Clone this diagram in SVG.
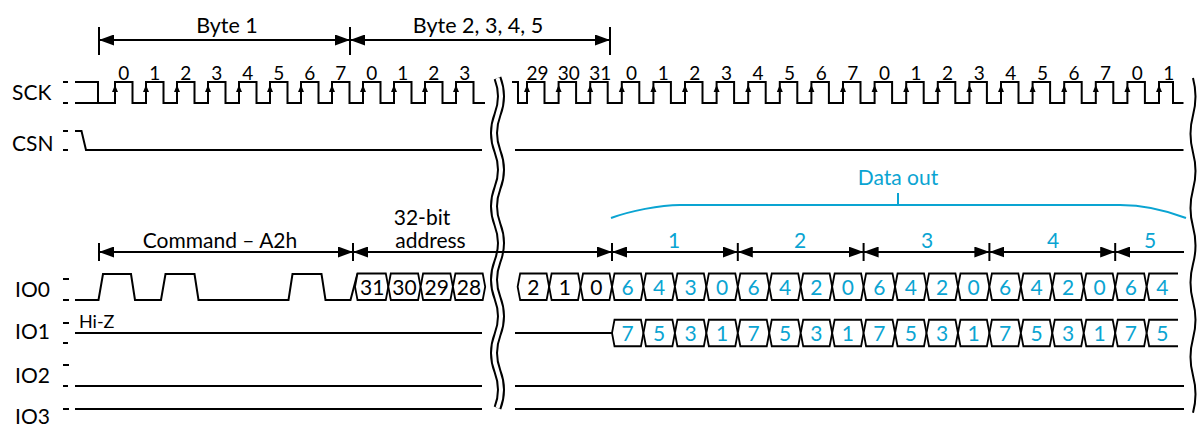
<svg xmlns="http://www.w3.org/2000/svg" xmlns:xlink="http://www.w3.org/1999/xlink" width="1198" height="426" viewBox="0 0 1198 426">
<style>
.t{font-family:Lato,"Liberation Sans",sans-serif;fill:#000}
.lbl{font-size:21px}
.num{font-size:19px;text-anchor:middle}
.dig{font-size:21px;text-anchor:middle}
.mid{text-anchor:middle}
.c{fill:#0AA4D2}
.w{fill:none;stroke:#000;stroke-width:2;stroke-linejoin:miter}
.bus{fill:#fff;stroke:#000;stroke-width:1.8}
.arr{fill:none;stroke:#000;stroke-width:2;marker-start:url(#ah);marker-end:url(#ah)}
.arr1{fill:none;stroke:#000;stroke-width:2;marker-start:url(#ah)}
.tick{fill:none;stroke:#000;stroke-width:2}
</style>
<defs>
<marker id="ah" viewBox="0 0 15 11" refX="15" refY="5.5" markerWidth="15" markerHeight="11" markerUnits="userSpaceOnUse" orient="auto-start-reverse"><path d="M0,0 L15,5.5 L0,11 z" fill="#000"/></marker>
<path id="ca" d="M0,85 L-3,92 L3,92 z" fill="#000"/>
<path id="hx" d="M0,0 L2.5,-13.25 H28.95 L31.45,0 L28.95,13.25 H2.5 Z"/>
</defs>

<g id="labels">
<text class="t lbl" x="12" y="100">SCK</text>
<text class="t lbl" x="12" y="151">CSN</text>
<text class="t lbl" x="15" y="297">IO0</text>
<text class="t lbl" x="15" y="339">IO1</text>
<text class="t lbl" x="15" y="383">IO2</text>
<text class="t lbl" x="15" y="424">IO3</text>
<path class="tick" d="M63,82 H68 M63,103 H68 M63,131 H68 M63,150 H68 M63,279 H69 M63,300 H69 M63,323 H69 M63,343 H68 M63,365 H69 M63,386 H68 M63,409 H69"/>
</g>

<g id="sck">
<path class="w" d="M75,82 H98 V103 M75,103 H115 V82 H132.5 V103 H146 V82 H163.5 V103 H177 V82 H194.5 V103 H208 V82 H225.5 V103 H239 V82 H256.5 V103 H270 V82 H287.5 V103 H301 V82 H318.5 V103 H332 V82 H349.5 V103 H363 V82 H380.5 V103 H394 V82 H411.5 V103 H425 V82 H442.5 V103 H456 V82 H473.5 V103 H485"/>
<path class="w" d="M512,82 H518 V103 H527 V82 H544.5 V103 H558.6 V82 H576.1 V103 H590.2 V82 H607.7 V103 H621.8 V82 H639.3 V103 H653.4 V82 H670.9 V103 H685 V82 H702.5 V103 H716.6 V82 H734.1 V103 H748.2 V82 H765.7 V103 H779.8 V82 H797.3 V103 H811.4 V82 H828.9 V103 H843 V82 H860.5 V103 H874.6 V82 H892.1 V103 H906.2 V82 H923.7 V103 H937.8 V82 H955.3 V103 H969.4 V82 H986.9 V103 H1001 V82 H1018.5 V103 H1032.6 V82 H1050.1 V103 H1064.2 V82 H1081.7 V103 H1095.8 V82 H1113.3 V103 H1127.4 V82 H1144.9 V103 H1159 V82 H1173 V103 H1183.5"/>
<use href="#ca" x="115"/><use href="#ca" x="146"/><use href="#ca" x="177"/><use href="#ca" x="208"/><use href="#ca" x="239"/><use href="#ca" x="270"/><use href="#ca" x="301"/><use href="#ca" x="332"/><use href="#ca" x="363"/><use href="#ca" x="394"/><use href="#ca" x="425"/><use href="#ca" x="456"/>
<use href="#ca" x="527"/><use href="#ca" x="558.6"/><use href="#ca" x="590.2"/><use href="#ca" x="621.8"/><use href="#ca" x="653.4"/><use href="#ca" x="685"/><use href="#ca" x="716.6"/><use href="#ca" x="748.2"/><use href="#ca" x="779.8"/><use href="#ca" x="811.4"/><use href="#ca" x="843"/><use href="#ca" x="874.6"/><use href="#ca" x="906.2"/><use href="#ca" x="937.8"/><use href="#ca" x="969.4"/><use href="#ca" x="1001"/><use href="#ca" x="1032.6"/><use href="#ca" x="1064.2"/><use href="#ca" x="1095.8"/><use href="#ca" x="1127.4"/><use href="#ca" x="1159"/>
<g class="t num">
<text x="123.8" y="80">0</text><text x="154.8" y="80">1</text><text x="185.8" y="80">2</text><text x="216.8" y="80">3</text><text x="247.8" y="80">4</text><text x="278.8" y="80">5</text><text x="309.8" y="80">6</text><text x="340.8" y="80">7</text><text x="371.8" y="80">0</text><text x="402.8" y="80">1</text><text x="433.8" y="80">2</text><text x="464.8" y="80">3</text>
<text x="537.5" y="80">29</text><text x="568.8" y="80">30</text><text x="600.2" y="80">31</text><text x="631.6" y="80">0</text><text x="663.2" y="80">1</text><text x="694.8" y="80">2</text><text x="726.4" y="80">3</text><text x="758" y="80">4</text><text x="789.6" y="80">5</text><text x="821.2" y="80">6</text><text x="852.8" y="80">7</text><text x="884.4" y="80">0</text><text x="916" y="80">1</text><text x="947.6" y="80">2</text><text x="979.2" y="80">3</text><text x="1010.8" y="80">4</text><text x="1042.4" y="80">5</text><text x="1074" y="80">6</text><text x="1105.6" y="80">7</text><text x="1137.2" y="80">0</text><text x="1168.8" y="80">1</text>
</g>
</g>

<g id="csn">
<path class="w" d="M75,131 H81.5 L86,150 H482 M515,150 H1183.5"/>
</g>

<g id="io0">
<path class="w" d="M75,300 H98.5 L103,274 H131 L135,300 H161 L165.5,274 H194.5 L198.5,300 H288.5 L292.5,274 H321.5 L325.5,300 H350.5 L357.5,273.5"/>
<path class="bus" d="M355,286.75 L357.5,273.5 H385.8 L388.3,286.75 L385.8,300 H357.5 Z"/>
<path class="bus" d="M388.3,286.75 L390.8,273.5 H418.1 L420.6,286.75 L418.1,300 H390.8 Z"/>
<path class="bus" d="M420.6,286.75 L423.1,273.5 H450.4 L452.9,286.75 L450.4,300 H423.1 Z"/>
<path class="bus" d="M452.9,286.75 L455.4,273.5 H482.7 L485.2,286.75 L482.7,300 H455.4 Z"/>
<g class="bus">
<use href="#hx" x="517.65" y="286.75"/><use href="#hx" x="549.1" y="286.75"/><use href="#hx" x="580.55" y="286.75"/>
<use href="#hx" x="612" y="286.75"/><use href="#hx" x="643.45" y="286.75"/><use href="#hx" x="674.9" y="286.75"/><use href="#hx" x="706.35" y="286.75"/><use href="#hx" x="737.8" y="286.75"/><use href="#hx" x="769.25" y="286.75"/><use href="#hx" x="800.7" y="286.75"/><use href="#hx" x="832.15" y="286.75"/><use href="#hx" x="863.6" y="286.75"/><use href="#hx" x="895.05" y="286.75"/><use href="#hx" x="926.5" y="286.75"/><use href="#hx" x="957.95" y="286.75"/><use href="#hx" x="989.4" y="286.75"/><use href="#hx" x="1020.85" y="286.75"/><use href="#hx" x="1052.3" y="286.75"/><use href="#hx" x="1083.75" y="286.75"/><use href="#hx" x="1115.2" y="286.75"/>
</g>
<path class="bus" fill="none" d="M1146.65,286.75 L1149.15,273.5 H1178 M1146.65,286.75 L1149.15,300 H1178"/>
<g class="t dig">
<text x="372.15" y="294.5">31</text><text x="404.45" y="294.5">30</text><text x="436.75" y="294.5">29</text><text x="469.05" y="294.5">28</text>
<text x="533.4" y="294.5">2</text><text x="564.8" y="294.5">1</text><text x="596.3" y="294.5">0</text>
</g>
<g class="t dig c">
<text x="627.7" y="294.5">6</text><text x="659.2" y="294.5">4</text><text x="690.6" y="294.5">3</text><text x="722.1" y="294.5">0</text><text x="753.5" y="294.5">6</text><text x="785" y="294.5">4</text><text x="816.4" y="294.5">2</text><text x="847.9" y="294.5">0</text><text x="879.3" y="294.5">6</text><text x="910.8" y="294.5">4</text><text x="942.2" y="294.5">2</text><text x="973.7" y="294.5">0</text><text x="1005.1" y="294.5">6</text><text x="1036.6" y="294.5">4</text><text x="1068" y="294.5">2</text><text x="1099.5" y="294.5">0</text><text x="1130.9" y="294.5">6</text><text x="1162.4" y="294.5">4</text>
</g>
</g>

<g id="io1">
<path class="w" d="M75,333 H482 M515,333 H612"/>
<text class="t" x="79" y="328" font-size="18">Hi-Z</text>
<g class="bus">
<use href="#hx" x="612" y="333"/><use href="#hx" x="643.45" y="333"/><use href="#hx" x="674.9" y="333"/><use href="#hx" x="706.35" y="333"/><use href="#hx" x="737.8" y="333"/><use href="#hx" x="769.25" y="333"/><use href="#hx" x="800.7" y="333"/><use href="#hx" x="832.15" y="333"/><use href="#hx" x="863.6" y="333"/><use href="#hx" x="895.05" y="333"/><use href="#hx" x="926.5" y="333"/><use href="#hx" x="957.95" y="333"/><use href="#hx" x="989.4" y="333"/><use href="#hx" x="1020.85" y="333"/><use href="#hx" x="1052.3" y="333"/><use href="#hx" x="1083.75" y="333"/><use href="#hx" x="1115.2" y="333"/>
</g>
<path class="bus" fill="none" d="M1146.65,333 L1149.15,319.75 H1178 M1146.65,333 L1149.15,346.25 H1178"/>
<g class="t dig c">
<text x="627.7" y="340.5">7</text><text x="659.2" y="340.5">5</text><text x="690.6" y="340.5">3</text><text x="722.1" y="340.5">1</text><text x="753.5" y="340.5">7</text><text x="785" y="340.5">5</text><text x="816.4" y="340.5">3</text><text x="847.9" y="340.5">1</text><text x="879.3" y="340.5">7</text><text x="910.8" y="340.5">5</text><text x="942.2" y="340.5">3</text><text x="973.7" y="340.5">1</text><text x="1005.1" y="340.5">7</text><text x="1036.6" y="340.5">5</text><text x="1068" y="340.5">3</text><text x="1099.5" y="340.5">1</text><text x="1130.9" y="340.5">7</text><text x="1162.4" y="340.5">5</text>
</g>
</g>

<g id="io2">
<path class="w" d="M75,386 H482 M515,386 H1184"/>
</g>
<g id="io3">
<path class="w" d="M75,409 H482 M515,409 H1184"/>
</g>

<g id="breaks">
<path d="M497.5,78 q7,18.33 0,36.67 t0,36.67 t0,36.67 t0,36.67 t0,36.67 t0,36.67 t0,36.67 t0,36.67 t0,36.67" fill="none" stroke="#000" stroke-width="8"/>
<path d="M497.5,78 q7,18.33 0,36.67 t0,36.67 t0,36.67 t0,36.67 t0,36.67 t0,36.67 t0,36.67 t0,36.67 t0,36.67" fill="none" stroke="#fff" stroke-width="4"/>
<path d="M1193,78 q5,18.6 0,37.2 t0,37.2 t0,37.2 t0,37.2 t0,37.2 t0,37.2 t0,37.2 t0,37.2 t0,37.2" fill="none" stroke="#000" stroke-width="2"/>
</g>

<g id="connectors">
<path class="tick" d="M99,27 V55 M350,27 V55 M610,27 V55"/>
<path class="arr" d="M99,40 H350"/>
<path class="arr" d="M350,40 H610"/>
<path class="tick" d="M99,243 V261 M353,243 V261 M612,243 V261 M737.8,243 V261 M863.6,243 V261 M989.4,243 V261 M1115.2,243 V261"/>
<path class="arr" d="M99,252 H353"/>
<path class="arr" d="M353,252 H612"/>
<path class="arr" d="M612,252 H737.8"/>
<path class="arr" d="M737.8,252 H863.6"/>
<path class="arr" d="M863.6,252 H989.4"/>
<path class="arr" d="M989.4,252 H1115.2"/>
<path class="arr1" d="M1115.2,252 H1184"/>
<path d="M611,218 C630,211 660,205 680,205 H1120 C1140,205 1165,210 1186,218 M898,193 V205" fill="none" stroke="#0AA4D2" stroke-width="2"/>
</g>

<g id="annotations">
<text class="t mid" x="227" y="33" font-size="21.5">Byte 1</text>
<text class="t mid" x="478" y="33" font-size="21.5">Byte 2, 3, 4, 5</text>
<text class="t mid" x="220" y="248" font-size="21">Command – A2h</text>
<text class="t mid" x="422" y="225" font-size="21">32-bit</text>
<text class="t mid" x="430.5" y="248" font-size="21">address</text>
<text class="t mid c" x="898" y="185" font-size="21">Data out</text>
<g class="t mid c" font-size="21">
<text x="674" y="248">1</text><text x="800" y="248">2</text><text x="927" y="248">3</text><text x="1053" y="248">4</text><text x="1150" y="248">5</text>
</g>
</g>
</svg>
